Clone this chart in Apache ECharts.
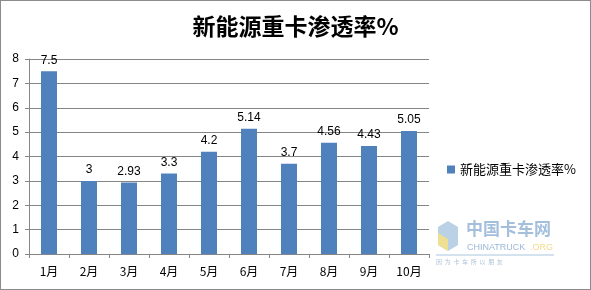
<!DOCTYPE html>
<html><head><meta charset="utf-8">
<script src="https://cdn.jsdelivr.net/npm/echarts@6/dist/echarts.min.js"></script>
<style>html,body{margin:0;padding:0;background:#fff}#c{width:589px;height:288px;border:1px solid #8c8c8c}</style>
</head><body><div id="c"></div>
<script>
const categories = ['1月','2月','3月','4月','5月','6月','7月','8月','9月','10月'];
const values = [7.5, 3, 2.93, 3.3, 4.2, 5.14, 3.7, 4.56, 4.43, 5.05];
const seriesName = '新能源重卡渗透率%';
const titleText = '新能源重卡渗透率%';
const chart = echarts.init(document.getElementById('c'));
chart.setOption({
  animation:false,
  title:{text:titleText,left:'center',top:9,textStyle:{fontFamily:'Noto Sans CJK SC',fontWeight:'bold',fontSize:23,color:'#000'}},
  legend:{data:[seriesName],orient:'vertical',left:441,top:157,itemWidth:8,itemHeight:8,itemGap:5,icon:'rect',textStyle:{fontFamily:'Noto Sans CJK SC',fontSize:13,color:'#000'}},
  grid:{left:28,right:161,top:58,bottom:35},
  xAxis:{type:'category',data:categories,axisLine:{lineStyle:{color:'#868686'}},axisTick:{show:true,length:4,lineStyle:{color:'#868686'}},axisLabel:{margin:11,fontFamily:'Noto Sans CJK SC',fontSize:12,color:'#000'}},
  yAxis:{type:'value',min:0,max:8,interval:1,axisLine:{show:true,lineStyle:{color:'#868686'}},axisTick:{show:true,length:4,lineStyle:{color:'#868686'}},splitLine:{lineStyle:{color:'#868686'}},axisLabel:{margin:10,fontFamily:'Liberation Sans',fontSize:12,color:'#000'}},
  series:[{name:seriesName,type:'bar',data:values,barWidth:16,itemStyle:{color:'#4F81BD'},label:{show:true,position:'top',distance:5,fontFamily:'Liberation Sans',fontSize:12,color:'#000'}}],
  graphic:[
    {type:'polygon',shape:{points:[[437,226],[447,220],[457,226],[457,244],[447,250],[437,244]]},style:{fill:'#a9c6e0',opacity:0.8}},
    {type:'polygon',shape:{points:[[437,232],[447,238],[447,250],[437,244]]},style:{fill:'#f5e08a',opacity:0.9}},
    {type:'text',left:465,top:219,style:{text:'中国卡车网',font:'bold 17px "Noto Sans CJK SC"',fill:'#a3bfdc'}},
    {type:'text',left:466,top:242,style:{text:'CHINATRUCK',font:'9px "Liberation Sans"',fill:'#9ab8d8'}},
    {type:'text',left:529,top:242,style:{text:'.ORG',font:'9px "Liberation Sans"',fill:'#f3d98a'}},
    {type:'line',shape:{x1:435,y1:254,x2:553,y2:254},style:{stroke:'#a9c6e0',lineWidth:1}},
    {type:'text',left:435,top:258,style:{text:'因  为  卡  车  所  以  朋  友',font:'6px "Noto Sans CJK SC"',fill:'#b0c4d8'}}
  ]
});
</script></body></html>
